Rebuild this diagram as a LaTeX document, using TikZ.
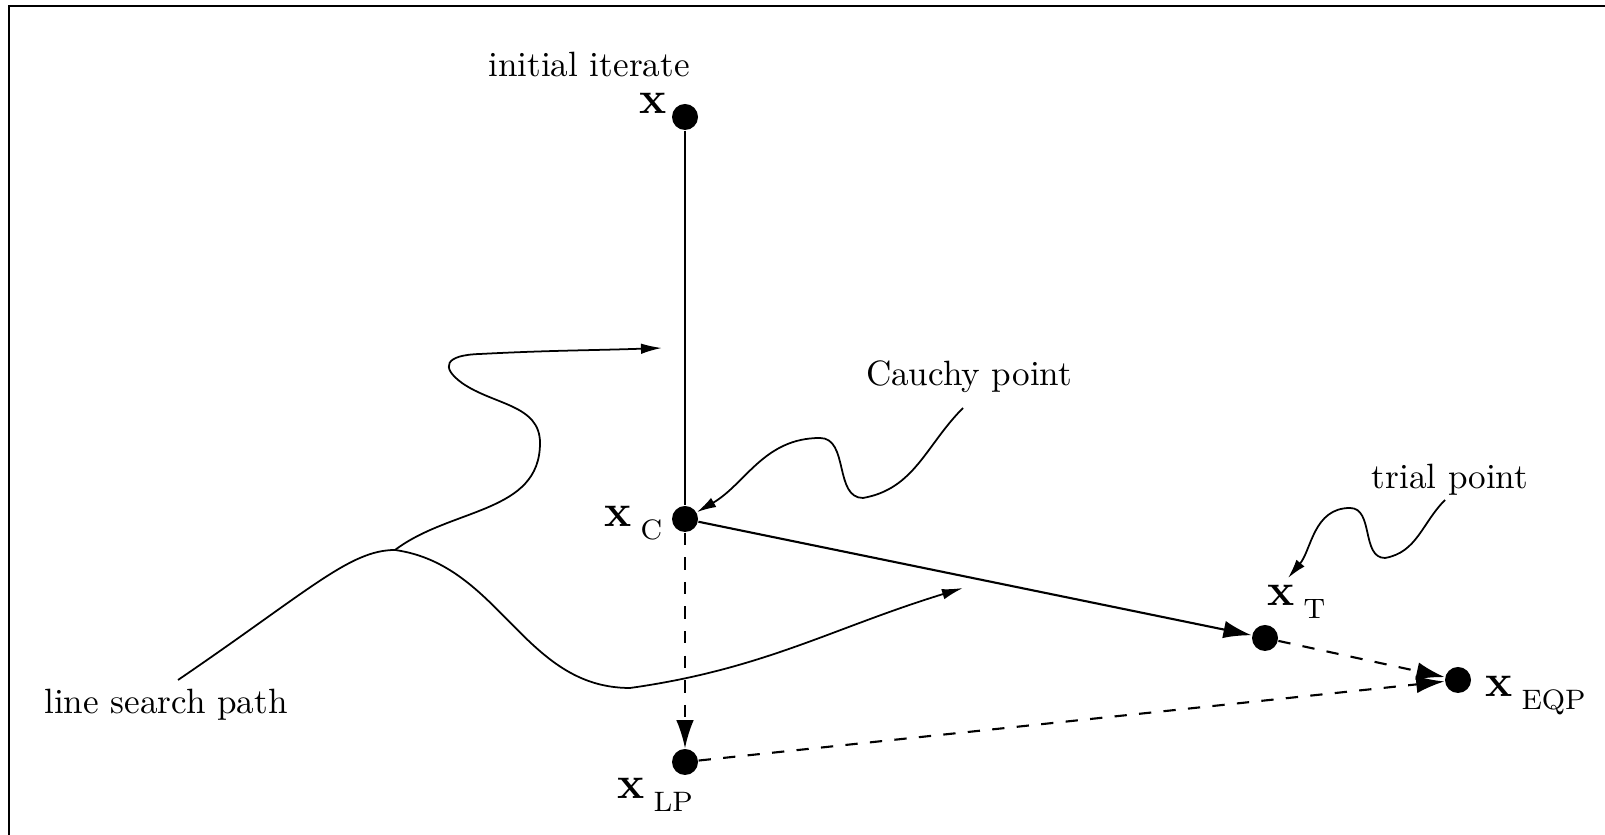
\documentclass[tikz,border=0pt]{standalone}
\usetikzlibrary{arrows.meta}
\newcommand{\xsub}[1]{x\hspace{2.5pt}\raisebox{-3.7pt}{\normalfont\footnotesize #1}}
\begin{document}
\begin{tikzpicture}
  % Estilos
  \tikzset{
    punto/.style={circle, fill=black, inner sep=0pt, minimum size=0.26cm},
    etiqueta/.style={font=\fontsize{13}{15}\selectfont\bfseries, inner sep=0pt, anchor=base west},
    texto/.style={font=\normalsize, inner sep=0pt},
    paso/.style={line width=0.6pt, -{Latex[length=8pt,width=5pt]}},
    guion/.style={paso, dash pattern=on 3.5pt off 3.5pt},
    nota/.style={line width=0.5pt, -{Latex[length=5.5pt,width=3pt]}},
    camino/.style={line width=0.5pt, -{Latex[length=6pt,width=3pt]}}
  }
  \useasboundingbox (0,0) rectangle (16.05,8.35);

  % Marco
  \draw[line width=0.8pt] (0.09,0) -- (0.09,8.29) -- (16.05,8.29);

  % Puntos
  \node[punto] (x0) at (6.85,7.18) {};
  \node[punto] (xc) at (6.85,3.16) {};
  \node[punto] (xlp) at (6.85,0.73) {};
  \node[punto] (xt) at (12.65,1.97) {};
  \node[punto] (xeqp) at (14.58,1.55) {};

  % Etiquetas de los puntos
  \node[etiqueta] (lx0) at (6.39,7.21) {x};
  \node[etiqueta] (lxc) at (6.04,3.08) {\xsub{C}};
  \node[etiqueta] (lxt) at (12.67,2.29) {\xsub{T}};
  \node[etiqueta] (lxeqp) at (14.85,1.38) {\xsub{EQP}};
  \node[etiqueta] (lxlp) at (6.17,0.36) {\xsub{LP}};

  % Textos
  \node[texto] (ini) at (5.89,7.70) {initial iterate};
  \node[texto] (cauchy) at (9.69,4.58) {Cauchy point};
  \node[texto] (trial) at (14.50,3.55) {trial point};
  \node[texto] (lsp) at (1.66,1.30) {line search path};

  % Pasos
  \draw[line width=0.6pt] (x0) -- (xc);
  \draw[paso] (xc) -- (xt);
  \draw[guion] (xc) -- (xlp);
  \draw[guion] (xt) -- (xeqp);
  \draw[guion] (xlp) -- (xeqp);

  % Flechas de las notas
  \coordinate (c1) at (9.63,4.27);
  \draw[nota] (c1) to[out=225,in=10] (8.63,3.37) to[out=180,in=0] (8.20,3.97) to[out=180,in=30] (xc);
  \coordinate (t1) at (14.45,3.35);
  \coordinate (t2) at (12.88,2.57);
  \draw[nota] (t1) to[out=225,in=10] (13.85,2.77) to[out=180,in=0] (13.50,3.27) to[out=180,in=50] (t2);

  % Camino de busqueda lineal
  \coordinate (l1) at (1.78,1.55);
  \coordinate (bp) at (3.95,2.85);
  \draw[line width=0.5pt] (l1) .. controls (3.1,2.45) and (3.5,2.85) .. (bp);
  \draw[camino] (bp) to[out=37,in=-90] (5.40,3.92) to[out=90,in=-35] (4.62,4.52)
    .. controls (4.40,4.68) and (4.45,4.80) .. (4.80,4.81) to[out=3,in=182] (6.62,4.87);
  \draw[camino] (bp) to[out=-8,in=180] (6.30,1.47) to[out=8,in=197] (9.63,2.47);
\end{tikzpicture}
\end{document}
